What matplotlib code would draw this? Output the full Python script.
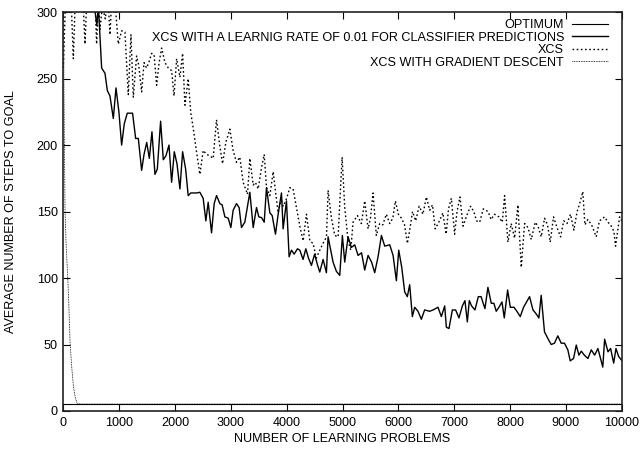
import numpy as np
import matplotlib.pyplot as plt
import matplotlib as mpl

mpl.rcParams['font.family'] = ['Liberation Sans', 'DejaVu Sans']
mpl.rcParams['font.size'] = 9.1

# optimum (constant)
opt_x = [0, 10000]
opt_y = [5.2, 5.2]

# XCS with learning rate 0.01 for classifier predictions (solid)
lr_x = [0, 100, 200, 300, 400, 500, 570, 600, 627, 686, 746, 788, 835, 895, 943, 995,
        1044, 1091, 1145, 1240, 1295, 1343, 1402, 1445, 1493, 1540, 1587, 1641, 1683,
        1742, 1790, 1838, 1892, 1939, 1987, 2035, 2088, 2136, 2190, 2236, 2283, 2385,
        2445, 2504, 2552, 2594, 2654, 2701, 2744, 2803, 2844, 2893, 2953, 3000, 3041,
        3101, 3148, 3190, 3250, 3340, 3400, 3459, 3501, 3549, 3597, 3638, 3698, 3740,
        3799, 3847, 3906, 3936, 3996, 4043, 4085, 4133, 4193, 4234, 4293, 4342, 4390,
        4443, 4500, 4550, 4592, 4652, 4711, 4741, 4830, 4890, 4950, 4997, 5039, 5099,
        5158, 5218, 5278, 5340, 5397, 5457, 5520, 5576, 5636, 5696, 5755, 5845, 5905,
        5964, 6006, 6060, 6113, 6160, 6202, 6250, 6292, 6351, 6411, 6470, 6560, 6620,
        6709, 6769, 6829, 6859, 6906, 6966, 7025, 7085, 7145, 7192, 7234, 7270, 7311,
        7371, 7431, 7480, 7550, 7603, 7663, 7710, 7752, 7800, 7855, 7896, 7956, 8004,
        8070, 8122, 8182, 8241, 8349, 8410, 8468, 8516, 8557, 8616, 8676, 8736, 8795,
        8855, 8915, 8974, 9034, 9077, 9137, 9185, 9233, 9275, 9330, 9394, 9454, 9514,
        9573, 9660, 9693, 9753, 9800, 9855, 9896, 9944, 10000]
lr_y = [340, 335, 345, 330, 340, 320, 300, 290, 305, 258, 254, 241, 237, 220, 243, 225,
        200, 216, 224, 224, 205, 205, 181, 193, 202, 190, 210, 178, 182,
        218, 189, 192, 200, 172, 195, 186, 167, 195, 182, 162, 164, 164,
        164.5, 160, 143, 157, 134, 156, 162, 156, 155, 146, 145, 138, 151,
        156, 153, 138, 142, 164.5, 138, 153, 146, 145.5, 142, 168, 149, 147,
        133, 148, 164, 137, 158, 116, 121, 118, 122, 121, 114, 122, 115,
        109.5, 118, 110, 104.5, 114, 104, 131, 112, 105, 102, 132, 112, 131,
        123, 125, 117, 119, 106, 117, 112, 104, 116, 132, 124, 125, 117,
        98, 121, 108, 89.5, 86, 95, 71, 78, 75, 69, 76, 75, 76,
        78, 71, 79, 63, 62, 76, 76, 70, 79, 83, 67, 83, 79,
        76, 86, 86, 77, 93, 81, 81, 75, 78, 82, 70, 91, 78,
        78, 75, 71, 78, 86, 76, 73, 70, 87, 59.5, 54.6, 50, 51,
        56.5, 51, 51, 46, 37.7, 39.5, 49.6, 42, 45, 42, 39.5, 46, 42,
        47, 33, 54, 44.5, 47, 36, 47, 41, 38]

# XCS (dotted)
xcs_x = [0, 40, 80, 130, 179, 230, 290, 340, 388, 440, 500, 550, 596, 630, 656, 700,
         750, 800, 835, 880, 930, 984, 1044, 1103, 1163, 1211, 1253, 1312, 1350, 1402,
         1445, 1490, 1530, 1581, 1625, 1671, 1715, 1760, 1820, 1880, 1940, 1982, 2029,
         2088, 2136, 2178, 2236, 2283, 2325, 2385, 2445, 2505, 2564, 2620, 2683, 2743,
         2800, 2851, 2910, 2982, 3040, 3101, 3160, 3220, 3298, 3340, 3400, 3440, 3489,
         3549, 3597, 3638, 3698, 3758, 3800, 3847, 3901, 3936, 4000, 4056, 4114, 4175,
         4235, 4294, 4354, 4414, 4473, 4530, 4593, 4650, 4712, 4741, 4801, 4861, 4920,
         4992, 5039, 5099, 5147, 5188, 5266, 5337, 5397, 5457, 5500, 5546, 5605, 5665,
         5720, 5784, 5844, 5900, 5946, 6000, 6055, 6110, 6161, 6210, 6253, 6310, 6371,
         6440, 6501, 6561, 6610, 6659, 6736, 6796, 6855, 6897, 6948, 7007, 7050, 7103,
         7157, 7233, 7293, 7350, 7400, 7456, 7520, 7606, 7660, 7720, 7800, 7860, 7902,
         7961, 8020, 8081, 8140, 8200, 8260, 8320, 8379, 8451, 8500, 8558, 8618, 8670,
         8719, 8778, 8840, 8904, 8960, 9020, 9082, 9142, 9200, 9240, 9302, 9340, 9393,
         9460, 9543, 9600, 9692, 9750, 9800, 9860, 9889, 9961, 10000]
xcs_y = [258, 310, 330, 320, 265, 330, 320, 320, 276, 330, 320, 330, 276, 310, 287, 305,
         295, 310, 283, 320, 305, 276, 286, 285, 238, 283, 236, 267, 260, 240,
         262, 258, 262, 269, 268, 245, 262, 273, 262, 258, 256, 237, 265,
         251, 269, 230, 250, 224, 213, 195, 178, 196, 193, 192, 190, 219,
         200, 186, 202, 212, 196, 187, 191, 172, 163, 190, 170, 172, 167,
         183, 193, 168, 162, 180, 165, 149, 160, 154, 160, 168, 167, 153,
         139, 128, 148, 128, 126, 115, 121, 126, 131, 166, 145, 132, 131,
         191, 153, 128, 121, 142, 147, 141, 158, 137, 145, 164, 132, 141,
         140, 148, 141, 145, 158, 148, 145, 140, 126, 138, 150, 143, 154,
         148, 161, 151, 155, 137, 143, 149, 133, 152, 160, 133, 150, 161,
         139, 148, 154, 150, 143, 142, 152, 150, 144, 148, 146, 142, 162,
         127, 141, 130, 155, 108, 141, 138, 129, 142, 139, 131, 145, 140,
         127, 146, 138, 131, 143, 141, 148, 136, 150, 155, 165, 140, 144,
         140, 131, 143, 146, 142, 140, 135, 124, 146, 143]

# XCS with gradient descent (fine dotted)
gd_x = [0, 10, 20, 30, 50, 80, 100, 120, 150, 180, 210, 240, 270, 300, 10000]
gd_y = [320, 250, 195, 152, 125, 100, 78, 52, 33, 19, 11, 6.5, 5.4, 5.2, 5.2]

fig = plt.figure(figsize=(6.41, 4.5), dpi=100)
ax = fig.add_axes([0.0988, 0.0867, 0.8712, 0.8863])

ax.plot(opt_x, opt_y, color='black', lw=0.8, label='OPTIMUM')
ax.plot(lr_x, lr_y, color='black', lw=1.0,
        label='XCS WITH A LEARNIG RATE OF 0.01 FOR CLASSIFIER PREDICTIONS')
ax.plot(xcs_x, xcs_y, color='black', lw=1.0, linestyle=(0, (1.2, 1.8)), label='XCS')
ax.plot(gd_x, gd_y, color='black', lw=0.6, linestyle=(0, (1, 1)),
        label='XCS WITH GRADIENT DESCENT')

ax.set_xlim(0, 10000)
ax.set_ylim(0, 300)
ax.set_xticks(np.arange(0, 10001, 1000))
ax.set_yticks(np.arange(0, 301, 50))
ax.tick_params(direction='in', top=True, right=True, length=5, width=0.8, pad=4)
for s in ax.spines.values():
    s.set_linewidth(1.2)
    s.set_color('#222222')

ax.set_xlabel('NUMBER OF LEARNING PROBLEMS', labelpad=3)
ax.set_ylabel('AVERAGE NUMBER OF STEPS TO GOAL', labelpad=14)

ax.legend(loc='upper right', bbox_to_anchor=(0.976, 0.983), frameon=False,
          markerfirst=False, handlelength=2.9, handletextpad=0.6,
          labelspacing=0.05, borderpad=0, borderaxespad=0)

plt.savefig('out.png', dpi=100)
